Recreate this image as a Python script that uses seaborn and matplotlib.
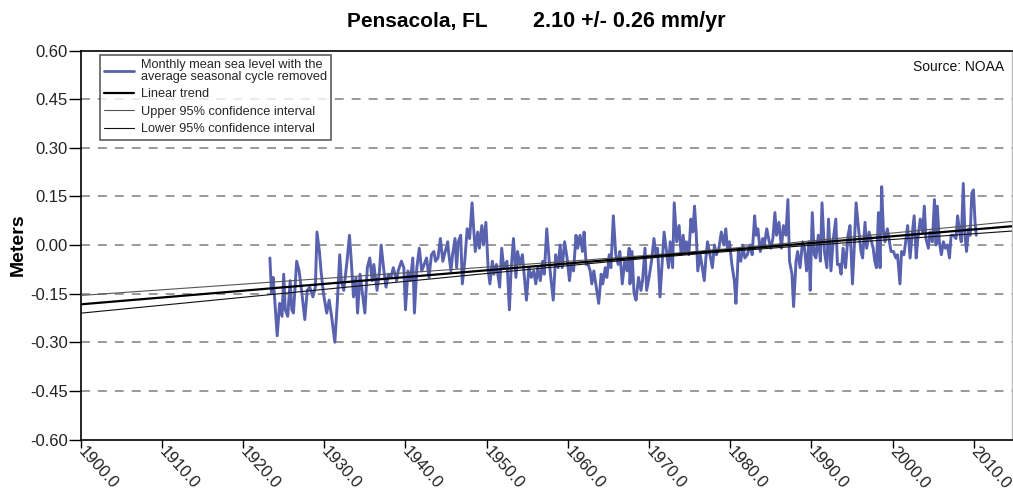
import numpy as np
import pandas as pd
import matplotlib
matplotlib.use("Agg")
import matplotlib.pyplot as plt
import seaborn as sns
from matplotlib.lines import Line2D

# ---------------- data ----------------
years_a = [1923.3, 1923.5, 1923.7, 1923.9, 1924.2, 1924.5, 1924.8, 1925.0, 1925.2, 1925.5,
           1925.8, 1926.0, 1926.2, 1926.6, 1926.9, 1927.2, 1927.6, 1927.9, 1928.2, 1928.6,
           1928.9, 1929.1, 1929.4, 1929.6, 1929.9, 1930.3, 1930.6, 1930.9, 1931.3, 1931.6,
           1931.9, 1932.1, 1932.4, 1932.8, 1933.1, 1933.3, 1933.6, 1933.9, 1934.1, 1934.4,
           1934.7, 1935.0, 1935.3, 1935.6, 1935.9, 1936.1, 1936.5, 1936.8, 1937.0, 1937.3,
           1937.6, 1937.9, 1938.2, 1938.5, 1938.9, 1939.1, 1939.5, 1939.8, 1940.0, 1940.3,
           1940.6, 1940.9, 1941.1, 1941.4, 1941.7, 1942.0, 1942.3, 1942.6, 1942.9, 1943.2,
           1943.5, 1943.7, 1944.0, 1944.3, 1944.6, 1944.9, 1945.2]
level_a = [-0.04, -0.15, -0.10, -0.17, -0.28, -0.18, -0.22, -0.09, -0.20, -0.22,
           -0.11, -0.20, -0.21, -0.05, -0.08, -0.14, -0.23, -0.14, -0.13, -0.16,
           -0.13, 0.04, -0.02, -0.08, -0.15, -0.21, -0.17, -0.22, -0.30, -0.18,
           -0.03, -0.11, -0.14, -0.05, 0.03, -0.04, -0.16, -0.10, -0.21, -0.09,
           -0.15, -0.21, -0.07, -0.04, -0.11, -0.06, -0.14, -0.08, 0.00, -0.07,
           -0.13, -0.09, -0.10, -0.07, -0.11, -0.08, -0.05, -0.07, -0.20, -0.08,
           -0.11, -0.04, -0.21, -0.07, -0.01, -0.08, -0.06, -0.04, -0.10, -0.03,
           -0.02, -0.05, -0.04, 0.02, -0.05, -0.02, 0.01]

years_b = [1945.3, 1945.6, 1945.8, 1946.1, 1946.3, 1946.5, 1946.8, 1947.0, 1947.3, 1947.6,
           1947.9, 1948.2, 1948.4, 1948.6, 1948.9, 1949.1, 1949.4, 1949.6, 1949.9, 1950.2,
           1950.4, 1950.7, 1950.9, 1951.2, 1951.6, 1951.85, 1952.1, 1952.5, 1952.8, 1953.0,
           1953.3, 1953.6, 1953.8, 1954.1, 1954.4, 1954.65, 1954.9, 1955.2, 1955.5, 1955.8,
           1956.05, 1956.3, 1956.6, 1956.9, 1957.1, 1957.4, 1957.7, 1957.9, 1958.2, 1958.5,
           1958.8, 1959.05, 1959.3, 1959.6, 1959.9, 1960.2, 1960.4, 1960.7, 1961.0, 1961.2,
           1961.5, 1961.8, 1962.0, 1962.25, 1962.5, 1962.75, 1962.95, 1963.2, 1963.5, 1963.8,
           1964.1, 1964.3, 1964.6, 1964.8, 1965.1, 1965.3, 1965.6, 1965.9, 1966.2, 1966.4,
           1966.7, 1967.0, 1967.3, 1967.55]
level_b = [-0.02, -0.08, -0.03, 0.02, -0.07, 0.01, 0.03, -0.12, -0.05, 0.05,
           0.02, 0.13, 0.05, -0.02, 0.04, -0.01, 0.06, 0.00, 0.07, -0.08,
           -0.12, -0.05, -0.09, -0.06, -0.13, -0.01, -0.07, -0.05, -0.20, -0.08,
           0.02, -0.10, -0.02, -0.06, -0.03, -0.10, -0.17, -0.07, -0.10, -0.08,
           -0.12, -0.07, -0.11, -0.05, -0.09, 0.05, -0.05, -0.10, -0.17, -0.03,
           -0.07, 0.00, -0.07, 0.01, -0.04, -0.11, -0.06, -0.08, 0.03, -0.01,
           0.03, -0.02, 0.04, -0.06, -0.06, -0.08, -0.12, -0.08, -0.13, -0.18,
           -0.09, -0.12, -0.07, -0.10, -0.03, -0.07, 0.09, -0.03, -0.06, -0.02,
           -0.12, -0.05, -0.08, -0.01]

years_c = [1967.65, 1967.9, 1968.15, 1968.4, 1968.7, 1969.0, 1969.2, 1969.5, 1969.7, 1970.0,
           1970.3, 1970.6, 1970.85, 1971.05, 1971.35, 1971.6, 1971.85, 1972.1, 1972.4, 1972.6,
           1972.9, 1973.1, 1973.4, 1973.7, 1973.95, 1974.2, 1974.4, 1974.6, 1974.9, 1975.15,
           1975.4, 1975.6, 1975.8, 1976.0, 1976.3, 1976.5, 1976.8, 1977.0, 1977.2, 1977.5,
           1977.8, 1978.05, 1978.3, 1978.6, 1978.9, 1979.2, 1979.45, 1979.65, 1979.9, 1980.2,
           1980.5, 1980.7, 1981.0, 1981.3, 1981.55, 1981.8, 1982.1, 1982.45, 1982.7, 1983.0,
           1983.2, 1983.4, 1983.7, 1984.0, 1984.2, 1984.5, 1984.8, 1985.0, 1985.25, 1985.5,
           1985.7, 1986.0, 1986.3, 1986.55, 1986.85, 1987.1, 1987.3, 1987.6, 1987.8, 1988.1,
           1988.3, 1988.6, 1988.9, 1989.15, 1989.4, 1989.7]
level_c = [-0.12, -0.02, -0.15, -0.17, -0.10, -0.14, -0.11, -0.01, -0.14, -0.10,
           -0.05, 0.02, -0.03, -0.01, -0.16, -0.06, 0.04, -0.01, -0.07, 0.01,
           -0.07, 0.13, 0.01, 0.06, -0.03, 0.03, -0.02, 0.01, -0.03, 0.08,
           0.04, 0.12, 0.04, -0.08, -0.03, -0.06, -0.11, -0.04, 0.01, -0.03,
           -0.07, 0.00, -0.03, -0.01, 0.04, 0.00, 0.05, -0.01, 0.01, -0.06,
           -0.11, -0.18, -0.02, -0.05, 0.00, -0.04, -0.03, 0.00, -0.03, 0.09,
           0.03, 0.05, -0.02, 0.02, 0.00, 0.05, 0.01, -0.01, 0.02, 0.10,
           0.03, 0.07, -0.01, 0.06, 0.03, 0.14, -0.05, -0.09, -0.19, -0.05,
           -0.02, -0.07, 0.01, -0.01, -0.08, 0.01]

years_d = [1989.85, 1990.1, 1990.35, 1990.55, 1990.85, 1991.1, 1991.3, 1991.6, 1991.9, 1992.1,
           1992.4, 1992.7, 1993.0, 1993.2, 1993.45, 1993.65, 1993.9, 1994.2, 1994.5, 1994.75,
           1995.05, 1995.25, 1995.5, 1995.8, 1996.1, 1996.3, 1996.6, 1996.8, 1997.1, 1997.3,
           1997.6, 1997.8, 1998.0, 1998.25, 1998.45, 1998.65, 1998.85, 1999.05, 1999.35, 1999.6,
           1999.8, 2000.1, 2000.4, 2000.6, 2000.9, 2001.1, 2001.4, 2001.65, 2001.85, 2002.15,
           2002.35, 2002.65, 2002.9, 2003.1, 2003.4, 2003.7, 2003.9, 2004.1, 2004.4, 2004.6,
           2004.9, 2005.15, 2005.35, 2005.5, 2005.75, 2006.0, 2006.25, 2006.5, 2006.75, 2007.0,
           2007.2, 2007.5, 2007.8, 2008.0, 2008.25, 2008.45, 2008.7, 2008.9, 2009.1, 2009.35,
           2009.55, 2009.75, 2009.95, 2010.15, 2010.3]
level_d = [-0.14, 0.10, -0.03, -0.04, 0.03, -0.05, 0.13, -0.02, -0.07, 0.08,
           -0.08, 0.02, 0.08, -0.06, -0.06, -0.09, -0.01, -0.07, 0.03, 0.06,
           -0.12, -0.02, 0.13, 0.05, -0.02, -0.04, 0.07, -0.01, 0.04, 0.02,
           -0.01, -0.05, -0.07, 0.10, -0.07, 0.18, 0.05, 0.01, 0.05, 0.01,
           -0.02, -0.02, -0.04, -0.03, -0.12, -0.02, -0.03, 0.02, 0.06, -0.04,
           0.02, 0.09, -0.04, 0.02, 0.08, 0.04, 0.12, 0.02, -0.01, 0.04,
           0.01, 0.14, 0.00, 0.12, 0.01, -0.03, 0.01, -0.01, 0.00, -0.04,
           0.03, 0.03, 0.02, 0.09, 0.04, 0.01, 0.19, 0.03, -0.02, 0.05,
           0.03, 0.16, 0.17, 0.07, 0.03]

# linear trend and its 95% confidence band
trend_rate_mm_per_yr = 2.10
trend_rate_err_mm_per_yr = 0.26
trend_value_1900_m = -0.183
ci_pivot_year = 1975.0
ci_floor_m = 0.004
ci_spread_m_per_yr = 0.00036

y_ticks = [-0.60, -0.45, -0.30, -0.15, 0.00, 0.15, 0.30, 0.45, 0.60]
x_ticks = [1900, 1910, 1920, 1930, 1940, 1950, 1960, 1970, 1980, 1990, 2000, 2010]
x_tick_labels = ["1900.0", "1910.0", "1920.0", "1930.0", "1940.0", "1950.0",
                 "1960.0", "1970.0", "1980.0", "1990.0", "2000.0", "2010.0"]
x_range = (1900.0, 2014.7)

title_station = "Pensacola, FL"
title_rate = "2.10 +/- 0.26 mm/yr"
legend_labels = ["Monthly mean sea level with the\naverage seasonal cycle removed",
                 "Linear trend", "Upper 95% confidence interval",
                 "Lower 95% confidence interval"]

# ---------------- build frames ----------------
series = pd.DataFrame({
    "year": years_a + years_b + years_c + years_d,
    "level": level_a + level_b + level_c + level_d,
})
t = np.linspace(x_range[0], x_range[1], 300)
trend = trend_value_1900_m + trend_rate_mm_per_yr / 1000.0 * (t - 1900.0)
half = np.sqrt(ci_floor_m ** 2 + (ci_spread_m_per_yr * (t - ci_pivot_year)) ** 2)
trend_df = pd.DataFrame({"year": t, "trend": trend, "upper": trend + half, "lower": trend - half})

# ---------------- style ----------------
sns.set_style("white")
plt.rcParams["font.family"] = ["Liberation Sans", "DejaVu Sans"]

W, H = 1013, 495
fig = plt.figure(figsize=(W / 100, H / 100), dpi=100)
ax = fig.add_axes([80.7 / W, (H - 439.5) / H, 931.3 / W, 389.0 / H])

blue = "#5862AE"
sns.lineplot(data=series, x="year", y="level", ax=ax, color=blue, lw=2.1,
             estimator=None, sort=False, zorder=3)
sns.lineplot(data=trend_df, x="year", y="upper", ax=ax, color="#555555", lw=0.8,
             estimator=None, zorder=4)
sns.lineplot(data=trend_df, x="year", y="lower", ax=ax, color="#111111", lw=0.8,
             estimator=None, zorder=4)
sns.lineplot(data=trend_df, x="year", y="trend", ax=ax, color="#000000", lw=1.6,
             estimator=None, zorder=5)

ax.set_xlim(*x_range)
ax.set_ylim(-0.60, 0.60)
ax.set_yticks(y_ticks)
ax.set_yticklabels([f"{v:.2f}" for v in y_ticks])
ax.set_xticks(x_ticks)
ax.set_xticklabels(x_tick_labels, rotation=-48, ha="left", va="center",
                   rotation_mode="anchor")
ax.set_xlabel("")
ax.set_ylabel("")

for v in y_ticks[1:-1]:
    ax.axhline(v, color="#9a9a9a", lw=1.4, ls=(0, (4.6, 4.1)), zorder=1)

ax.tick_params(axis="y", direction="out", length=8.5, width=1.0, pad=1,
               labelsize=12, colors="#222222", left=True)
ax.tick_params(axis="x", direction="out", length=5.5, width=1.0, pad=1.5,
               labelsize=12, colors="#222222", bottom=True)
ax.tick_params(axis="both", color="#000000")

for side in ["left", "bottom", "top"]:
    ax.spines[side].set_color("#000000")
    ax.spines[side].set_linewidth(1.2)
ax.spines["right"].set_color("#bbbbbb")
ax.spines["right"].set_linewidth(1.0)

handles = [Line2D([], [], color=blue, lw=2.0),
           Line2D([], [], color="#000000", lw=1.6),
           Line2D([], [], color="#555555", lw=0.8),
           Line2D([], [], color="#111111", lw=0.8)]
leg = ax.legend(handles, legend_labels, loc="upper left",
                bbox_to_anchor=((100 - 80.7) / 931.3, (439.5 - 55) / 389.0),
                frameon=True, fancybox=False, shadow=False, fontsize=9.2,
                handlelength=2.3, handletextpad=0.55, labelspacing=0.42,
                borderpad=0.35, borderaxespad=0.0)
leg.get_frame().set_edgecolor("#333333")
leg.get_frame().set_linewidth(1.2)
for txt in leg.get_texts():
    txt.set_linespacing(0.95)

ax.text(0.992, 0.975, "Source: NOAA", transform=ax.transAxes, ha="right", va="top",
        fontsize=10, color="#111111")

fig.text(347 / W, 1 - 22 / H, title_station, ha="left", va="center",
         fontsize=15, fontweight="bold", color="#000000")
fig.text(533 / W, 1 - 22 / H, title_rate, ha="left", va="center",
         fontsize=15.5, fontweight="bold", color="#000000")
fig.text(18 / W, 1 - 245 / H, "Meters", rotation=90, ha="center", va="center",
         fontsize=14, fontweight="bold", color="#000000")

fig.savefig("out.png", dpi=100)
